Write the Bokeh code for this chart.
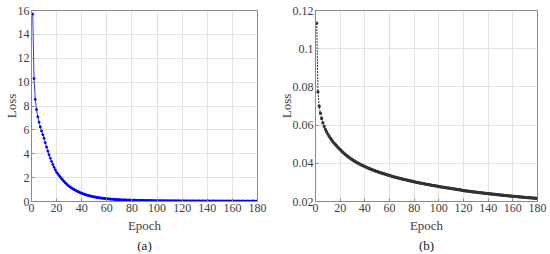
from bokeh.plotting import figure
from bokeh.layouts import row
from bokeh.models import FixedTicker, Title, Range1d, CustomJSTickFormatter
from bokeh.embed import file_html
from bokeh.resources import INLINE

epochs = list(range(1, 181))

loss_a = [
    15.7, 10.3, 8.55, 7.7, 7.1, 6.65, 6.25, 5.9, 5.6, 5.3,
    4.92, 4.56, 4.22, 3.91, 3.62, 3.35, 3.1, 2.87, 2.65, 2.45,
    2.32, 2.18, 2.04, 1.91, 1.79, 1.67, 1.56, 1.46, 1.36, 1.27,
    1.2, 1.13, 1.06, 1.0, 0.94, 0.88, 0.83, 0.78, 0.73, 0.69,
    0.65, 0.61, 0.575, 0.54, 0.51, 0.48, 0.455, 0.43, 0.405, 0.385,
    0.365, 0.345, 0.327, 0.31, 0.295, 0.28, 0.266, 0.253, 0.241, 0.23,
    0.22, 0.21, 0.2, 0.192, 0.184, 0.176, 0.169, 0.162, 0.156, 0.15,
    0.145, 0.14, 0.135, 0.13, 0.126, 0.122, 0.118, 0.114, 0.111, 0.108,
    0.105, 0.102, 0.099, 0.097, 0.094, 0.092, 0.09, 0.088, 0.086, 0.084,
    0.082, 0.08, 0.078, 0.077, 0.075, 0.074, 0.072, 0.071, 0.07, 0.068,
    0.067, 0.066, 0.065, 0.064, 0.063, 0.062, 0.061, 0.06, 0.059, 0.058,
    0.057, 0.057, 0.056, 0.055, 0.054, 0.054, 0.053, 0.052, 0.052, 0.051,
    0.05, 0.05, 0.049, 0.049, 0.048, 0.047, 0.047, 0.046, 0.046, 0.045,
    0.045, 0.044, 0.044, 0.043, 0.043, 0.042, 0.042, 0.041, 0.041, 0.04,
    0.04, 0.04, 0.039, 0.039, 0.038, 0.038, 0.038, 0.037, 0.037, 0.036,
    0.036, 0.036, 0.035, 0.035, 0.035, 0.034, 0.034, 0.034, 0.033, 0.033,
    0.033, 0.032, 0.032, 0.032, 0.031, 0.031, 0.031, 0.031, 0.03, 0.03,
    0.03, 0.03, 0.029, 0.029, 0.029, 0.029, 0.028, 0.028, 0.028, 0.028,
]

loss_b = [
    0.1134, 0.0774, 0.0699, 0.0662, 0.0635, 0.0612, 0.0594, 0.0578, 0.0565, 0.0553,
    0.0542, 0.0532, 0.0523, 0.0514, 0.0506, 0.0499, 0.0492, 0.0485, 0.0478, 0.0472,
    0.0465, 0.0459, 0.0453, 0.0447, 0.0442, 0.0437, 0.0432, 0.0427, 0.0422, 0.0418,
    0.0414, 0.0410, 0.0406, 0.0402, 0.0399, 0.0395, 0.0392, 0.0389, 0.0386, 0.0383,
    0.0380, 0.0377, 0.0374, 0.0371, 0.0369, 0.0366, 0.0364, 0.0361, 0.0359, 0.0357,
    0.0354, 0.0352, 0.0350, 0.0348, 0.0346, 0.0344, 0.0342, 0.0340, 0.0338, 0.0336,
    0.0334, 0.0332, 0.0330, 0.0328, 0.0327, 0.0325, 0.0323, 0.0322, 0.0320, 0.0318,
    0.0317, 0.0315, 0.0314, 0.0312, 0.0311, 0.0309, 0.0308, 0.0306, 0.0305, 0.0303,
    0.0302, 0.0300, 0.0299, 0.0298, 0.0296, 0.0295, 0.0294, 0.0293, 0.0291, 0.0290,
    0.0289, 0.0288, 0.0287, 0.0285, 0.0284, 0.0283, 0.0282, 0.0281, 0.0280, 0.0278,
    0.0277, 0.0276, 0.0275, 0.0274, 0.0273, 0.0272, 0.0271, 0.0270, 0.0269, 0.0268,
    0.0267, 0.0266, 0.0265, 0.0264, 0.0263, 0.0262, 0.0261, 0.0260, 0.0258, 0.0257,
    0.0256, 0.0255, 0.0255, 0.0254, 0.0253, 0.0252, 0.0251, 0.0250, 0.0250, 0.0249,
    0.0248, 0.0247, 0.0246, 0.0246, 0.0245, 0.0244, 0.0243, 0.0243, 0.0242, 0.0241,
    0.0240, 0.0240, 0.0239, 0.0238, 0.0238, 0.0237, 0.0236, 0.0235, 0.0235, 0.0234,
    0.0233, 0.0233, 0.0232, 0.0231, 0.0231, 0.0230, 0.0229, 0.0229, 0.0228, 0.0227,
    0.0227, 0.0226, 0.0226, 0.0225, 0.0224, 0.0224, 0.0223, 0.0223, 0.0222, 0.0221,
    0.0221, 0.0220, 0.0220, 0.0219, 0.0219, 0.0218, 0.0218, 0.0217, 0.0217, 0.0216,
]

x_ticks = [0, 20, 40, 60, 80, 100, 120, 140, 160, 180]
y_ticks_a = [0, 2, 4, 6, 8, 10, 12, 14, 16]
y_ticks_b = [0.02, 0.04, 0.06, 0.08, 0.10, 0.12]

FONT = "Liberation Serif"
TXT = "#404040"


def style(p, yticks, caption):
    p.xaxis.ticker = FixedTicker(ticks=x_ticks)
    p.yaxis.ticker = FixedTicker(ticks=yticks)
    p.xgrid.ticker = FixedTicker(ticks=x_ticks)
    p.ygrid.ticker = FixedTicker(ticks=yticks)
    p.grid.grid_line_color = "#e3e3e3"
    p.grid.grid_line_width = 1
    p.outline_line_color = "#8a8a8a"
    p.outline_line_width = 1
    for ax in (p.xaxis, p.yaxis):
        ax.axis_line_color = "#8a8a8a"
        ax.major_tick_line_color = "#8a8a8a"
        ax.major_tick_in = 3
        ax.major_tick_out = 0
        ax.minor_tick_line_color = None
        ax.major_label_text_font = FONT
        ax.major_label_text_font_size = "12px"
        ax.major_label_text_color = TXT
        ax.axis_label_text_font = FONT
        ax.axis_label_text_font_size = "13px"
        ax.axis_label_text_font_style = "normal"
        ax.axis_label_text_color = TXT
    p.xaxis.major_label_standoff = 2
    p.yaxis.major_label_standoff = 2
    p.xaxis.axis_label_standoff = 3
    p.yaxis.axis_label_standoff = -4
    p.add_layout(Title(text=caption, align="center", text_font=FONT,
                       text_font_size="13px", text_font_style="normal",
                       text_color="#222222", standoff=0, offset=0,
                       text_line_height=1.0), "below")
    p.background_fill_color = "white"
    p.border_fill_color = "white"


pa = figure(width=275, height=252, output_backend="svg", toolbar_location=None,
            x_range=Range1d(0, 180), y_range=Range1d(0, 16),
            x_axis_label="Epoch", y_axis_label="Loss",
            min_border_left=20, min_border_right=18, min_border_top=10, min_border_bottom=0)
pa.line(epochs, loss_a, line_color="#0000ff", line_width=0.8)
pa.scatter(epochs, loss_a, size=2, color="#0000ff", marker="circle")
style(pa, y_ticks_a, "(a)")

pb = figure(width=273, height=252, output_backend="svg", toolbar_location=None,
            x_range=Range1d(0, 180), y_range=Range1d(0.02, 0.12),
            x_axis_label="Epoch", y_axis_label="Loss",
            min_border_left=28, min_border_right=11, min_border_top=10, min_border_bottom=0)
pb.line(epochs, loss_b, line_color="#333333", line_width=1, line_dash="2 1")
pb.scatter(epochs, loss_b, size=2, color="#333333", marker="square")
pb.yaxis.formatter = CustomJSTickFormatter(
    code="return tick.toFixed(2).replace(/0+$/, '').replace(/\\.$/, '');")
style(pb, y_ticks_b, "(b)")

layout = row(pa, pb)
open("out.html", "w").write(file_html(layout, INLINE))
